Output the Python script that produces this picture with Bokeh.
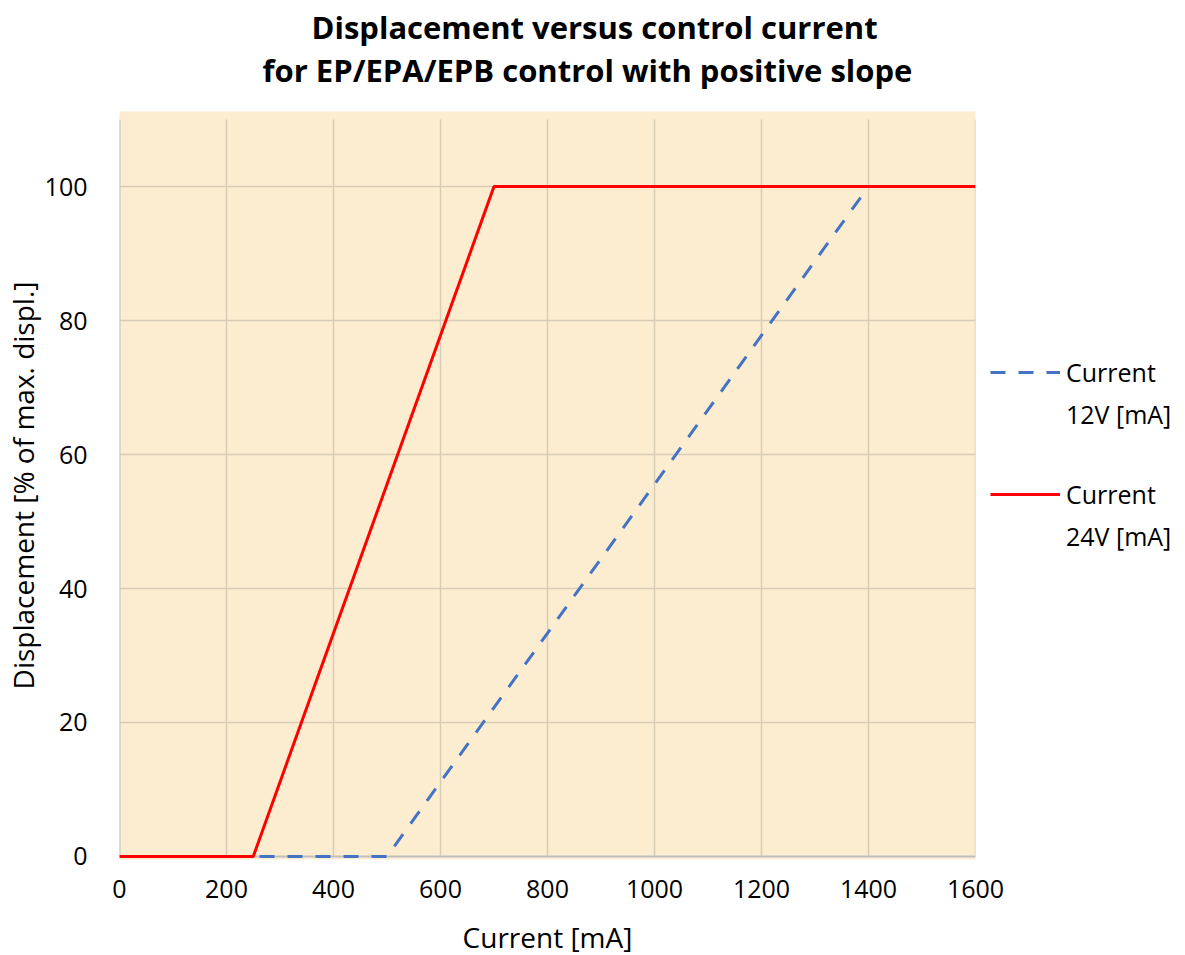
from bokeh.plotting import figure
from bokeh.models import Legend, LegendItem, Range1d, FixedTicker, Title
from bokeh.embed import file_html
from bokeh.resources import INLINE

# ---- data ----
current_12v = [0, 500, 1400]
displ_12v = [0, 0, 100]
current_24v = [0, 250, 700, 1600]
displ_24v = [0, 0, 100, 100]
x_ticks = [0, 200, 400, 600, 800, 1000, 1200, 1400, 1600]
y_ticks = [0, 20, 40, 60, 80, 100]
y_grid_top = 110
title_lines = ["Displacement versus control current",
               "for EP/EPA/EPB control with positive slope"]
legend_12v = ["Current", "12V [mA]"]
legend_24v = ["Current", "24V [mA]"]

FONT = "Open Sans"
TXT = "#000000"
GRID = "#D7CCB6"
AXIS = "#BFBFBF"

p = figure(frame_width=856, frame_height=748,
           min_border_left=119, min_border_right=210,
           min_border_top=111, min_border_bottom=91,
           x_range=Range1d(0, 1600), y_range=Range1d(-0.45, 111.2),
           output_backend="svg", toolbar_location=None, title=None)

p.background_fill_color = "#FCEDD1"
p.border_fill_color = "white"
p.outline_line_color = None
p.xgrid.visible = False
p.ygrid.ticker = FixedTicker(ticks=y_ticks[1:])
p.ygrid.grid_line_color = GRID
p.ygrid.grid_line_width = 1.5

# vertical grid lines (stop at 110 like the reference)
p.segment(x0=x_ticks[1:], y0=[0] * (len(x_ticks) - 1),
          x1=x_ticks[1:], y1=[y_grid_top] * (len(x_ticks) - 1),
          line_color=GRID, line_width=1.5)
# axis lines
p.segment(x0=[0], y0=[0], x1=[0], y1=[y_grid_top], line_color=AXIS, line_width=2)
p.segment(x0=[x_ticks[0]], y0=[0], x1=[x_ticks[-1]], y1=[0], line_color=AXIS, line_width=2)

r12 = p.line(current_12v, displ_12v, line_color="#4472C4", line_width=3,
             line_dash="15 13")
r24 = p.line(current_24v, displ_24v, line_color="#FF0000", line_width=3)
blank = p.line(x=[], y=[], line_alpha=0)

# axes
p.xaxis.ticker = FixedTicker(ticks=x_ticks)
p.yaxis.ticker = FixedTicker(ticks=y_ticks)
for ax in (p.xaxis[0], p.yaxis[0]):
    ax.major_tick_line_color = None
    ax.minor_tick_line_color = None
    ax.axis_line_color = None
    ax.major_label_text_font = FONT
    ax.major_label_text_font_size = "25px"
    ax.major_label_text_color = TXT
    ax.axis_label_text_font = FONT
    ax.axis_label_text_font_size = "28px"
    ax.axis_label_text_font_style = "normal"
    ax.axis_label_text_color = TXT
p.xaxis.major_label_standoff = 14
p.yaxis.major_label_standoff = 26
p.xaxis.axis_label = "Current [mA]"
p.yaxis.axis_label = "Displacement [% of max. displ.]"
p.xaxis.axis_label_standoff = 17
p.yaxis.axis_label_standoff = 0

# title (two lines)
p.add_layout(Title(text=title_lines[1], text_font=FONT, text_font_size="31px",
                   text_font_style="bold", text_color=TXT, align="left",
                   offset=143, standoff=42), "above")
p.add_layout(Title(text=title_lines[0], text_font=FONT, text_font_size="31px",
                   text_font_style="bold", text_color=TXT, align="left",
                   offset=192, standoff=-44), "above")

legend = Legend(items=[LegendItem(label=legend_12v[0], renderers=[r12]),
                       LegendItem(label=legend_12v[1], renderers=[blank]),
                       LegendItem(label=" ", renderers=[blank]),
                       LegendItem(label=legend_24v[0], renderers=[r24]),
                       LegendItem(label=legend_24v[1], renderers=[blank])],
                location=(15, 306), glyph_width=70, glyph_height=30,
                label_height=30, label_text_font=FONT,
                label_text_font_size="25px", label_text_color=TXT,
                label_standoff=6, spacing=8, padding=0, margin=0,
                border_line_color=None, background_fill_alpha=0)
p.add_layout(legend, "right")

open("out.html", "w").write(file_html(p, INLINE))
